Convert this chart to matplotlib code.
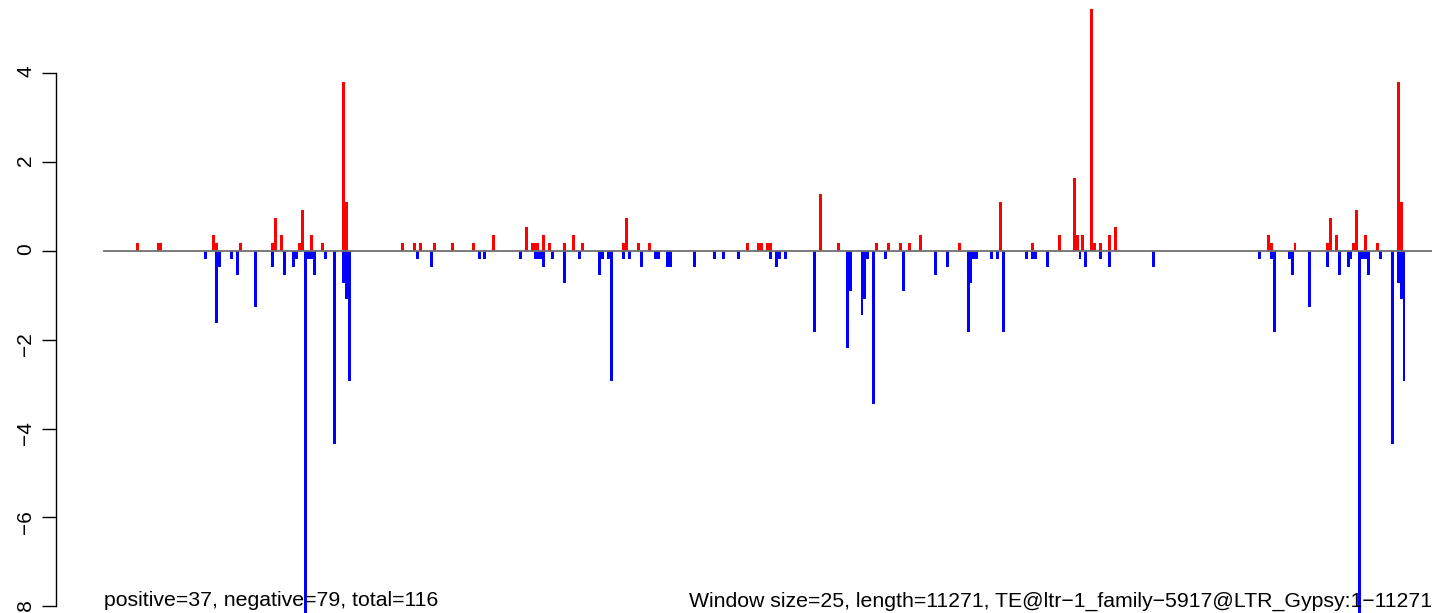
import numpy as np
import matplotlib.pyplot as plt

plt.rcParams['font.family'] = ['Liberation Sans', 'DejaVu Sans']

# windows of 25 bp over the 11271 bp element
n_windows = 451

# positive windows (red)
pos_windows = [11, 18, 19, 37, 38, 46, 57, 58, 60, 66, 67, 70, 74, 81, 82,
               101, 105, 107, 112, 118, 125, 132, 143, 145, 146, 147, 149, 151, 156, 159, 162,
               176, 177, 181, 185, 218, 222, 223, 225, 226,
               243, 249, 262, 266, 270, 273, 277, 290,
               304, 315, 324, 329, 330, 332, 335, 336, 338, 341, 343,
               395, 396, 404, 415, 416, 418, 424, 425, 428, 432, 439, 440]
pos_values = [0.18, 0.18, 0.18, 0.36, 0.18, 0.18, 0.18, 0.73, 0.36, 0.18, 0.91, 0.36, 0.18, 3.80, 1.09,
              0.18, 0.18, 0.18, 0.18, 0.18, 0.18, 0.36, 0.54, 0.18, 0.18, 0.18, 0.36, 0.18, 0.18, 0.36, 0.18,
              0.18, 0.73, 0.18, 0.18, 0.18, 0.18, 0.18, 0.18, 0.18,
              1.27, 0.18, 0.18, 0.18, 0.18, 0.18, 0.36, 0.18,
              1.09, 0.18, 0.36, 1.63, 0.36, 0.36, 5.44, 0.18, 0.18, 0.36, 0.54,
              0.36, 0.18, 0.18, 0.18, 0.73, 0.36, 0.18, 0.91, 0.36, 0.18, 3.80, 1.09]

# negative windows (blue)
neg_windows = [34, 38, 39, 43, 45, 51, 57, 61, 64, 65, 68, 69, 70, 71, 75, 78, 81, 82, 83,
               106, 111, 127, 129, 141, 146, 147, 148, 149, 152, 156, 161, 168, 169, 171, 172,
               176, 178, 182, 187, 188, 191, 192, 200, 207, 210, 215, 226, 228, 229, 231,
               241, 252, 253, 257, 258, 259, 261, 265, 271, 282, 286, 293, 294, 295, 296,
               301, 303, 305, 313, 315, 316, 320, 331, 333, 338, 341, 356,
               392, 396, 397, 402, 403, 409, 415, 419, 422, 423, 426, 427, 428, 429, 433,
               437, 439, 440, 441]
neg_values = [-0.18, -1.63, -0.36, -0.18, -0.54, -1.27, -0.36, -0.54, -0.36, -0.18, -8.15, -0.18, -0.18, -0.54, -0.18, -4.35, -0.73, -1.09, -2.92,
              -0.18, -0.36, -0.18, -0.18, -0.18, -0.18, -0.18, -0.18, -0.36, -0.18, -0.73, -0.18, -0.54, -0.18, -0.18, -2.92,
              -0.18, -0.18, -0.36, -0.18, -0.18, -0.36, -0.36, -0.36, -0.18, -0.18, -0.18, -0.18, -0.36, -0.18, -0.18,
              -1.82, -2.18, -0.91, -1.45, -1.09, -0.18, -3.45, -0.18, -0.91, -0.54, -0.36, -1.82, -0.73, -0.18, -0.18,
              -0.18, -0.18, -1.82, -0.18, -0.18, -0.18, -0.36, -0.18, -0.36, -0.18, -0.36, -0.36,
              -0.18, -0.18, -1.82, -0.18, -0.54, -1.27, -0.36, -0.54, -0.36, -0.18, -8.15, -0.18, -0.18, -0.54, -0.18,
              -4.35, -0.73, -1.09, -2.92]

yticks = [-8, -6, -4, -2, 0, 2, 4]
left_label = "positive=37, negative=79, total=116"
right_label = "Window size=25, length=11271, TE@ltr\u22121_family\u22125917@LTR_Gypsy:1\u221211271"

W, H = 1444, 613
fig = plt.figure(figsize=(W / 100, H / 100), dpi=100)

# pixel layout of the original R plot
axis_px, data_left, data_right = 56, 103.5, 1432
zero_px, unit_px = 250.7, 44.46
step = (data_right - data_left) / n_windows

ax = fig.add_axes([axis_px / W, 0, (data_right - axis_px) / W, 1])
ax.patch.set_visible(False)
ax.set_xlim(-(data_left - axis_px) / step, n_windows)
ax.set_ylim(-(H - zero_px) / unit_px, zero_px / unit_px)

ax.bar(pos_windows, pos_values, width=1, align='edge', color='#ff0000', linewidth=0, antialiased=False)
ax.bar(neg_windows, neg_values, width=1, align='edge', color='#0000ff', linewidth=0, antialiased=False)
ax.plot([0, n_windows], [0, 0], color='#707070', lw=1.3, zorder=3)

for s in ['top', 'right', 'bottom']:
    ax.spines[s].set_visible(False)
ax.spines['left'].set_bounds(-8, 4)
ax.spines['left'].set_linewidth(1.0)
ax.set_xticks([])
ax.set_yticks(yticks)
ax.set_yticklabels([str(t).replace('-', '\u2212') for t in yticks])
ax.tick_params(axis='y', length=10, width=1.0, labelsize=15, labelrotation=90, pad=5)

ax.text(0, -8, left_label, ha='left', va='baseline', fontsize=15.3)
ax.text(n_windows, -8, right_label, ha='right', va='baseline', fontsize=15.3)

fig.savefig('out.png', dpi=100)
